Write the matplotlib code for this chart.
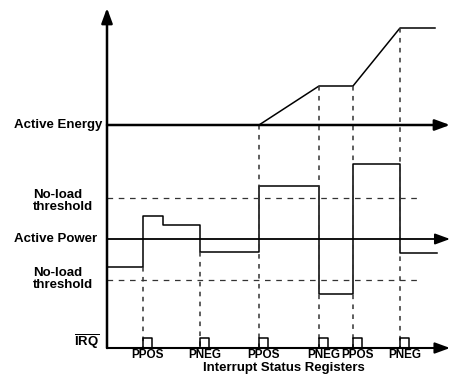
import numpy as np
import matplotlib.pyplot as plt

plt.rcParams['font.family'] = ['Liberation Sans', 'DejaVu Sans']
plt.rcParams['font.weight'] = 'bold'
plt.rcParams['mathtext.fontset'] = 'custom'
plt.rcParams['mathtext.rm'] = 'Liberation Sans:bold'
plt.rcParams['mathtext.bf'] = 'Liberation Sans:bold'

## Interrupt events (time) and the flag raised at each
events = [143, 200, 259, 319, 353, 400]
irq_labels = ["PPOS", "PNEG", "PPOS", "PNEG", "PPOS", "PNEG"]

## Active energy accumulated over time
energy_t = [107, 259, 319, 353, 400, 435]
energy_v = [0, 0, 39, 39, 97, 97]

## Active power (steps), relative to the power axis
power_t = [107, 143, 163, 200, 259, 319, 353, 400, 437]
power_v = [-28, 23, 14, -13, 53, -55, 75, -14]
threshold = 41

## Layout: baselines of the three traces
E0, P0, I0 = 251, 137, 28
x0, x_tip = 107, 450
pulse_w, pulse_h = 9, 10

fig = plt.figure(figsize=(4.51, 3.76), dpi=100)
ax = fig.add_axes([0, 0, 1, 1])
ax.set_xlim(0, 451)
ax.set_ylim(0, 376)
ax.axis("off")

arrow = dict(arrowstyle="-|>,head_length=0.6,head_width=0.22", color="k",
             mutation_scale=15, shrinkA=0, shrinkB=0)

# vertical axis
ax.annotate("", xy=(x0, 368), xytext=(x0, I0), arrowprops=dict(arrow, lw=1.8))
# horizontal axes
ax.annotate("", xy=(x_tip, E0), xytext=(x0, E0), arrowprops=dict(arrow, lw=1.8))
ax.annotate("", xy=(x_tip, P0), xytext=(x0, P0), arrowprops=dict(arrow, lw=1.3))
ax.annotate("", xy=(x_tip, I0), xytext=(x0, I0), arrowprops=dict(arrow, lw=1.5))

# energy curve
ax.plot(energy_t, E0 + np.array(energy_v), color="k", lw=1.1)

# power steps
pv = P0 + np.array(power_v + [power_v[-1]])
ax.step(power_t, pv, where="post", color="k", lw=1.1)

# no-load thresholds
for s in (1, -1):
    ax.plot([x0, 417], [P0 + s * threshold] * 2, color="#333333", lw=0.9,
            linestyle=(0, (4.5, 4.5)))

# dashed guides from each event down to the IRQ line, plus the IRQ pulses
for e, lab in zip(events, irq_labels):
    if e >= energy_t[1]:
        top = E0 + np.interp(e, energy_t, energy_v)
    else:
        k = power_t.index(e)
        top = P0 + min(power_v[k - 1], power_v[k])
    ax.plot([e, e], [top, I0], color="#333333", lw=1.1, linestyle=(0, (3, 3.5)))
    ax.plot([e, e, e + pulse_w, e + pulse_w], [I0, I0 + pulse_h, I0 + pulse_h, I0],
            color="k", lw=1.1)
    ax.text(e + 5, 21.5, lab, ha="center", va="center", fontsize=8.5,
            fontweight="bold")

# labels
big = dict(fontsize=9.5, fontweight="bold", va="center")
ax.text(102, E0, "Active Energy", ha="right", **big)
ax.text(97, P0, "Active Power", ha="right", **big)
ax.text(33, P0 + threshold - 3, "No-load\nthreshold", ha="left", linespacing=1.0, **big)
ax.text(33, P0 - threshold + 0.5, "No-load\nthreshold", ha="left", linespacing=1.0, **big)
ax.text(100, 34, r"$\overline{\mathbf{IRQ}}$", ha="right", **big)
ax.text(284, 8, "Interrupt Status Registers", ha="center", **big)

fig.savefig("out.png", dpi=100)
